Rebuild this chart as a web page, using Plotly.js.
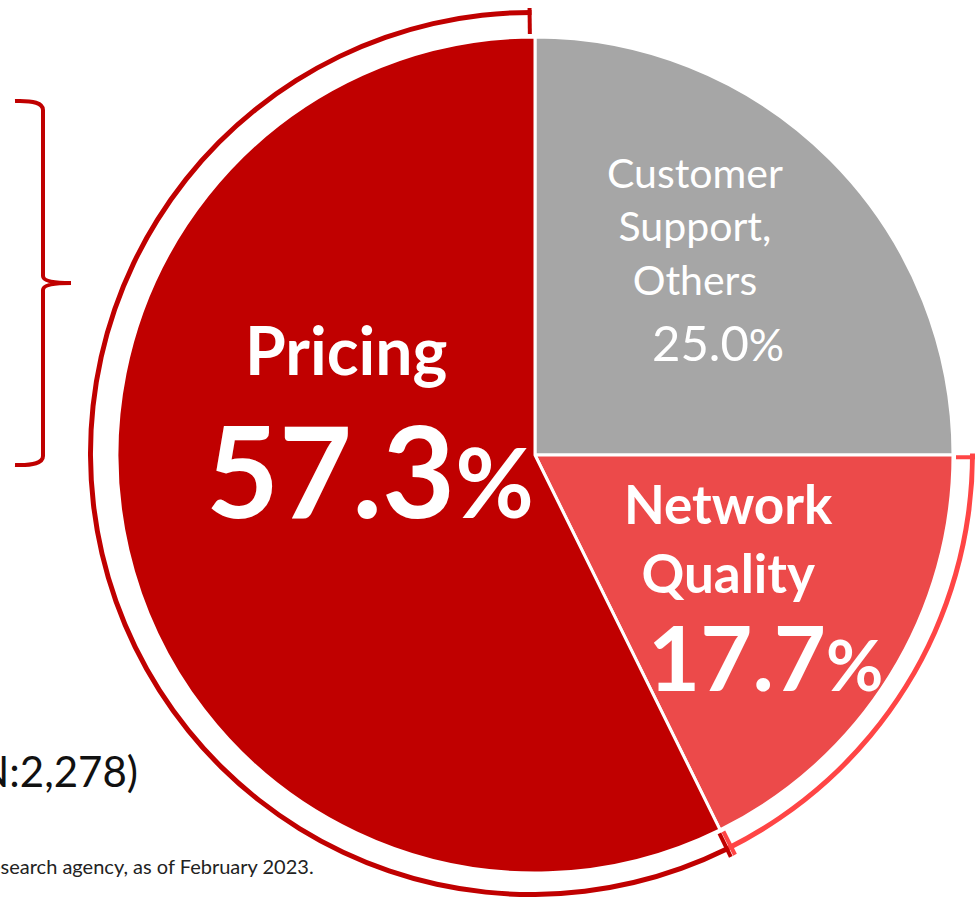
<!DOCTYPE html>
<html>
<head>
<meta charset="utf-8">
<script src="https://cdn.plot.ly/plotly-3.0.1.min.js"></script>
<style>
  html, body { margin: 0; padding: 0; background: #fff; }
  #chart { width: 975px; height: 899px; }
</style>
</head>
<body>
<div id="chart"></div>
<script>
// survey answers, clockwise from 12 o'clock
var categories = ['Customer Support, Others', 'Network Quality', 'Pricing'];
var shares = [25.0, 17.7, 57.3];
var sampleSize = '2,278';
var sourceNote = '* Survey conducted by an external research agency, as of February 2023.';

var sliceColors = ['#a6a6a6', '#ec4a4a', '#c00000'];
var ringColors = ['rgba(0,0,0,0)', '#ff4545', '#c00000'];

var W = 975, H = 899;
var cx = 535, cy = 455, R = 418, RING = 447;

function px(x) { return x / W; }
function py(y) { return 1 - y / H; }

// point on a circle, angle in degrees clockwise from 12 o'clock
function polar(r, deg) {
	var a = deg * Math.PI / 180;
	return { x: px(cx + r * Math.sin(a)), y: py(cy - r * Math.cos(a)) };
}

function domainFor(r) {
	return { x: [px(cx - r), px(cx + r)], y: [py(cy + r), py(cy - r)] };
}

var pie = {
	type: 'pie',
	labels: categories,
	values: shares,
	sort: false,
	direction: 'clockwise',
	rotation: 0,
	textinfo: 'none',
	hoverinfo: 'label+percent',
	marker: { colors: sliceColors, line: { color: '#ffffff', width: 3 } },
	domain: domainFor(R),
	showlegend: false
};

// thin outer ring that brackets pricing and network quality
var ring = {
	type: 'pie',
	labels: categories,
	values: shares,
	sort: false,
	direction: 'clockwise',
	rotation: 0,
	hole: (RING - 5) / RING,
	textinfo: 'none',
	hoverinfo: 'skip',
	marker: { colors: ringColors, line: { width: 0 } },
	domain: domainFor(RING),
	showlegend: false
};

// angles of slice edges
var edges = [0];
var total = shares.reduce(function(a, b) { return a + b; }, 0);
shares.forEach(function(v, i) { edges.push(edges[i] + v / total * 360); });

function tick(deg, color) {
	var p0 = polar(R + 3, deg), p1 = polar(RING, deg);
	return { type: 'line', xref: 'paper', yref: 'paper',
		x0: p0.x, y0: p0.y, x1: p1.x, y1: p1.y,
		line: { color: color, width: 4 } };
}

var shapes = [
	tick(360 - 0.7, ringColors[2]),
	tick(edges[2] + 0.3, ringColors[2]),
	tick(edges[2] - 0.3, ringColors[1]),
	tick(edges[1] + 0.3, ringColors[1]),
	// curly bracket on the left
	{ type: 'path', xref: 'paper', yref: 'paper',
	  path: 'M ' + px(15) + ',' + py(101) + ' Q ' + px(43) + ',' + py(100) + ' ' + px(43) + ',' + py(110) +
	        ' L ' + px(43) + ',' + py(276) + ' Q ' + px(43) + ',' + py(283) + ' ' + px(71) + ',' + py(283) +
	        ' M ' + px(43) + ',' + py(290) + ' Q ' + px(43) + ',' + py(283) + ' ' + px(71) + ',' + py(283) +
	        ' M ' + px(43) + ',' + py(290) + ' L ' + px(43) + ',' + py(456) +
	        ' Q ' + px(43) + ',' + py(466) + ' ' + px(15) + ',' + py(465),
	  line: { color: '#c00000', width: 4 } }
];

function pct(v, big, small) {
	return '<span style="font-size:' + big + 'px">' + v.toFixed(1) + '</span>' +
		'<span style="font-size:' + small + 'px">%</span>';
}

var F = 'Lato, "Noto Sans", sans-serif';
function note(x, y, text, size, bold, color, anchor) {
	return { xref: 'paper', yref: 'paper', x: px(x), y: py(y), text: bold ? '<b>' + text + '</b>' : text,
		showarrow: false, xanchor: anchor || 'center', yanchor: 'middle', align: 'center',
		font: { family: F, size: size, color: color || '#ffffff' } };
}

var annotations = [
	note(695, 226, categories[0].replace('Customer ', 'Customer<br>').replace(', ', ',<br>'), 41, false),
	note(718, 342, pct(shares[0], 49, 44), 49, false),
	note(728, 538, categories[1].replace(' ', '<br>'), 53, true),
	note(765, 656, pct(shares[1], 90, 70), 90, true),
	note(346, 349, categories[2], 66, true),
	note(370, 469, pct(shares[2], 126, 96), 126, true),
	note(140, 771, '(N:' + sampleSize + ')', 42, false, '#111111', 'right'),
	note(316, 866, sourceNote, 20, false, '#222222', 'right')
];

var layout = {
	width: W, height: H,
	margin: { l: 0, r: 0, t: 0, b: 0 },
	paper_bgcolor: '#ffffff',
	shapes: shapes,
	annotations: annotations,
	showlegend: false
};

Plotly.newPlot('chart', [ring, pie], layout, { displayModeBar: false, staticPlot: true });
</script>
</body>
</html>
